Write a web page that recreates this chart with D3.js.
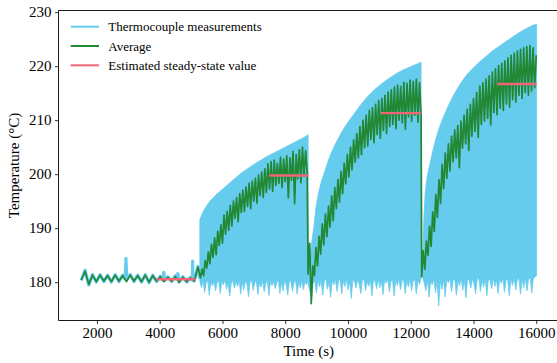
<!DOCTYPE html>
<html><head><meta charset="utf-8">
<script src="https://cdn.jsdelivr.net/npm/d3@7"></script>
<style>body{margin:0;background:#fff;} svg{display:block;} text{font-family:"Liberation Serif","DejaVu Serif",serif;}</style>
</head><body><svg id="c" width="557" height="363"></svg>
<script>
// ---------- data ----------
const xTicks = [2000, 4000, 6000, 8000, 10000, 12000, 14000, 16000];
const yTicks = [180, 190, 200, 210, 220, 230];
const seriesNames = ["Thermocouple measurements", "Average", "Estimated steady-state value"];

// early thermocouple trace (before heating)
const thermoEarlyT = [1500,1620,1740,1860,1980,2100,2220,2340,2460,2580,2700,2820,2900,2925,2950,3060,3180,3300,3420,3540,3660,3780,3900,4020,4110,4130,4150,4260,4380,4500,4560,4580,4620,4740,4860,4980,5040,5050,5060,5100,5220,5270];
const thermoEarlyV = [180.3,182.2,179.5,181.4,180.0,181.4,180.1,181.3,180.0,181.4,180.1,181.3,180.6,184.4,180.5,181.4,180.1,181.3,180.0,181.4,179.9,181.3,180.1,181.1,180.3,181.8,180.4,181.0,180.1,181.2,180.6,181.6,180.0,181.0,180.0,180.9,180.4,183.9,180.4,180.2,182.9,180.6];

// thermocouple band: upper envelope per heating step
const upper1T = [5280,5380,5480,5600,5800,6000,6200,6400,6600,6800,7000,7200,7400,7600,7800,8000,8200,8400,8600,8730];
const upper1V = [191.6,193.0,194.0,195.0,196.2,197.2,198.2,199.2,200.2,201.0,201.8,202.5,203.2,203.8,204.4,205.0,205.6,206.2,206.8,207.3];
const upper2T = [8740,8800,8860,8920,8980,9060,9160,9260,9360,9460,9600,9800,10000,10200,10400,10600,10800,11000,11200,11400,11600,11800,12000,12200,12330];
const upper2V = [182.5,185.5,188.0,190.5,193.8,196.5,198.8,200.5,202.3,203.8,205.6,207.8,209.6,211.2,212.8,214.2,215.4,216.4,217.3,218.1,218.8,219.4,219.9,220.4,220.7];
const upper3T = [12380,12420,12460,12520,12600,12700,12800,12900,13000,13200,13400,13600,13800,14000,14200,14400,14600,14800,15000,15200,15400,15600,15800,15900,16010];
const upper3V = [183.0,192.0,196.5,199.4,201.6,204.2,206.5,208.4,210.0,212.7,215.0,216.9,218.5,219.7,220.8,221.8,222.8,223.6,224.4,225.2,226.0,226.7,227.3,227.6,227.7];

// lower envelope (evenly spaced samples between start and end time)
const lower1Span = [5280, 8730];
const lower1V = [180.2,179.0,180.3,178.1,179.8,180.4,177.6,180.0,179.3,180.2,
  178.4,179.9,180.3,177.9,180.1,179.5,180.4,178.7,180.0,177.4,
  179.8,180.3,178.9,180.1,179.2,180.4,177.8,180.0,178.6,180.2,
  179.7,177.3,180.1,180.3,178.5,179.9,180.2,177.7,180.0,179.1,
  180.4,178.2,179.8,180.3,177.5,180.1,179.4,180.2,178.8,179.9,
  180.4,177.9,180.0,178.4,180.3,179.6,177.6,180.1,180.2,178.3,
  179.9,180.4,177.8,180.0,179.0,180.3,178.6,180.1,179.5,180.2];
const lower2Span = [8740, 12330];
const lower2V = [179.4,178.2,176.9,179.8,180.3,178.0,180.5,179.1,180.4,177.6,
  180.2,180.6,178.7,180.1,177.2,180.4,179.5,180.6,178.3,180.2,
  180.5,177.8,180.3,179.2,180.6,178.6,180.1,177.0,180.4,180.2,
  178.9,180.5,179.6,177.9,180.3,180.6,178.4,180.1,179.3,180.5,
  177.5,180.4,180.2,178.8,180.6,179.0,180.3,177.7,180.5,179.8,
  180.6,178.2,180.2,180.4,177.4,180.5,179.4,180.7,178.6,180.3,
  180.5,177.9,180.4,179.1,180.7,178.4,180.2,180.6,177.8,180.5,
  179.6,180.8];
const lower3Span = [12380, 16010];
const lower3V = [180.9,179.8,178.4,180.5,177.2,180.2,179.5,180.6,178.0,180.4,
  175.6,180.3,178.7,180.6,177.3,180.5,179.9,180.7,178.2,180.4,
  180.6,177.6,180.3,179.3,180.8,178.5,180.4,177.1,180.6,180.3,
  178.9,180.7,179.7,177.8,180.5,180.8,178.3,180.4,179.1,180.7,
  177.5,180.6,180.3,178.8,180.8,179.2,180.5,177.9,180.7,179.8,
  180.8,178.1,180.4,180.6,177.4,180.7,179.4,180.9,178.6,180.5,
  180.7,177.8,180.6,179.0,180.9,178.4,180.5,180.8,178.0,180.7,
  180.9,181.2];

// average series: [start time, step] and values
const avg0Grid = [1500, 120];
const avg0V = [180.4,182.0,179.6,181.3,180.1,181.3,180.2,181.2,180.1,181.3,180.2,181.2,180.1,181.3,180.2,181.2,180.1,181.3,180.0,181.2,180.2,181.0,180.1,180.9,180.2,181.0,180.0,180.9,180.1,180.8,180.2,182.8];
const avg1Grid = [5300, 50];
const avg1V = [180.8,182.4,181.2,184.0,182.6,185.6,183.4,187.0,184.6,188.2,
  185.1,189.4,186.8,190.6,187.2,192.4,188.9,193.1,189.6,194.2,
  190.4,195.0,191.8,195.6,191.2,196.4,192.9,197.0,193.1,197.6,
  194.0,198.3,193.6,198.7,195.0,199.2,194.6,199.8,196.0,200.4,
  195.7,201.0,196.6,201.9,197.2,202.3,196.8,202.6,197.9,202.0,
  198.3,203.1,197.5,202.8,198.6,203.4,195.6,203.0,198.9,204.2,
  194.5,203.6,199.1,204.5,198.4,205.0,199.6,204.3,200.2];
const avg2Grid = [8730, 50];
const avg2V = [181.5,187.2,176.0,183.0,181.2,186.4,183.0,188.5,185.2,190.8,
  186.9,192.6,188.4,194.1,190.2,196.0,191.4,197.5,193.6,199.0,
  194.8,200.5,196.4,202.0,198.2,203.6,199.5,205.0,200.8,206.3,
  202.2,207.5,203.0,208.8,203.6,210.0,204.9,210.9,205.2,211.8,
  206.4,212.3,205.8,212.9,207.3,213.6,206.6,214.0,208.1,214.6,
  207.5,215.2,208.8,215.6,209.2,216.1,208.4,216.5,210.0,216.2,
  209.5,217.0,208.3,216.8,210.6,217.4,209.8,217.2,210.9,217.6,
  209.6,216.9,210.8];
const avg3Grid = [12350, 50];
const avg3V = [181.0,185.8,182.4,187.6,185.0,190.4,186.6,193.0,189.4,196.2,
  192.0,199.0,194.6,201.8,197.3,203.9,199.2,205.6,200.6,207.0,
  202.3,208.2,203.0,209.0,201.2,209.8,204.8,210.9,205.6,212.0,
  204.4,212.9,207.0,214.0,207.9,215.1,206.8,216.3,209.2,216.9,
  209.8,217.6,210.3,218.2,209.1,218.9,211.4,219.5,211.0,220.1,
  212.2,220.5,211.8,221.0,213.0,221.5,212.4,222.0,213.8,222.4,
  213.3,222.8,214.6,223.1,214.0,223.4,215.1,223.6,214.6,223.8,
  215.4,223.4,216.0,222.0];

// steady-state estimates
const steadyStart = [3890, 7490, 11050, 14760];
const steadyEnd = [5130, 8740, 12320, 16010];
const steadyValue = [180.55, 199.75, 211.3, 216.7];

const colors = ["#66CCEE", "#228833", "#EE6677"];

// ---------- chart ----------
const svg = d3.select("#c");
const L = 58.5, R = 559, T = 10.5, B = 320.5;
const x = d3.scaleLinear().domain([775, 16725]).range([L, R]);
const y = d3.scaleLinear().domain([172.9, 230.3]).range([B, T]);

svg.append("defs").append("clipPath").attr("id", "clip")
  .append("rect").attr("x", L).attr("y", T).attr("width", R - L).attr("height", B - T);
const plot = svg.append("g").attr("clip-path", "url(#clip)");

const line = d3.line().x(d => x(d[0])).y(d => y(d[1]));

// thermocouple band
function spread(span, vals) {
  const n = vals.length;
  return vals.map((v, i) => [span[0] + (span[1] - span[0]) * i / (n - 1), v]);
}
const bands = [
  [d3.zip(upper1T, upper1V), spread(lower1Span, lower1V)],
  [d3.zip(upper2T, upper2V), spread(lower2Span, lower2V)],
  [d3.zip(upper3T, upper3V), spread(lower3Span, lower3V)]
];
bands.forEach(([up, lo]) => {
  const pts = up.concat(lo.slice().reverse());
  plot.append("path").attr("d", line(pts) + "Z")
    .attr("fill", colors[0]).attr("stroke", colors[0]).attr("stroke-width", 0.8);
});
plot.append("path").attr("d", line(d3.zip(thermoEarlyT, thermoEarlyV)))
  .attr("fill", "none").attr("stroke", colors[0]).attr("stroke-width", 3.2)
  .attr("stroke-linejoin", "round");

// average
function grid(g, vals) { return vals.map((v, i) => [g[0] + g[1] * i, v]); }
const avgPts = grid(avg0Grid, avg0V).concat(grid(avg1Grid, avg1V), grid(avg2Grid, avg2V), grid(avg3Grid, avg3V));
plot.append("path").attr("d", line(avgPts))
  .attr("fill", "none").attr("stroke", colors[1]).attr("stroke-width", 1.7)
  .attr("stroke-linejoin", "round");

// steady state
plot.selectAll("line.ss").data(steadyValue).enter().append("line")
  .attr("x1", (d, i) => x(steadyStart[i])).attr("x2", (d, i) => x(steadyEnd[i]))
  .attr("y1", d => y(d)).attr("y2", d => y(d))
  .attr("stroke", colors[2]).attr("stroke-width", 2.4);

// axes
const xAxis = svg.append("g").attr("transform", `translate(0,${B})`)
  .call(d3.axisBottom(x).tickValues(xTicks).tickFormat(d3.format("d")).tickSize(3.5).tickPadding(3.5));
const yAxis = svg.append("g").attr("transform", `translate(${L},0)`)
  .call(d3.axisLeft(y).tickValues(yTicks).tickFormat(d3.format("d")).tickSize(3.5).tickPadding(3.5));
[xAxis, yAxis].forEach(g => {
  g.select(".domain").remove();
  g.selectAll(".tick line").attr("stroke", "#000").attr("stroke-width", 0.8);
  g.selectAll(".tick text").attr("font-family", '"Liberation Serif", serif').attr("font-size", 15).attr("fill", "#000");
});
// spines
svg.append("line").attr("x1", L).attr("x2", L).attr("y1", T).attr("y2", B).attr("stroke", "#000").attr("stroke-width", 0.9);
svg.append("line").attr("x1", L).attr("x2", R).attr("y1", B).attr("y2", B).attr("stroke", "#000").attr("stroke-width", 0.9);
svg.append("line").attr("x1", L).attr("x2", R).attr("y1", T).attr("y2", T).attr("stroke", "#000").attr("stroke-width", 0.9);

// labels
svg.append("text").attr("x", (L + R) / 2).attr("y", 355.5).attr("text-anchor", "middle")
  .attr("font-size", 15).text("Time (s)");
svg.append("text").attr("transform", `translate(19,${(T + B) / 2}) rotate(-90)`)
  .attr("text-anchor", "middle").attr("font-size", 15).text("Temperature (°C)");

// legend
const lg = svg.append("g");
seriesNames.forEach((name, i) => {
  const yy = 26.7 + i * 19.3;
  lg.append("line").attr("x1", 70.7).attr("x2", 99).attr("y1", yy).attr("y2", yy)
    .attr("stroke", colors[i]).attr("stroke-width", 2);
  lg.append("text").attr("x", 108.3).attr("y", yy).attr("dy", "0.35em")
    .attr("font-size", 13).attr("fill", "#000").text(name);
});
</script>
</body></html>
